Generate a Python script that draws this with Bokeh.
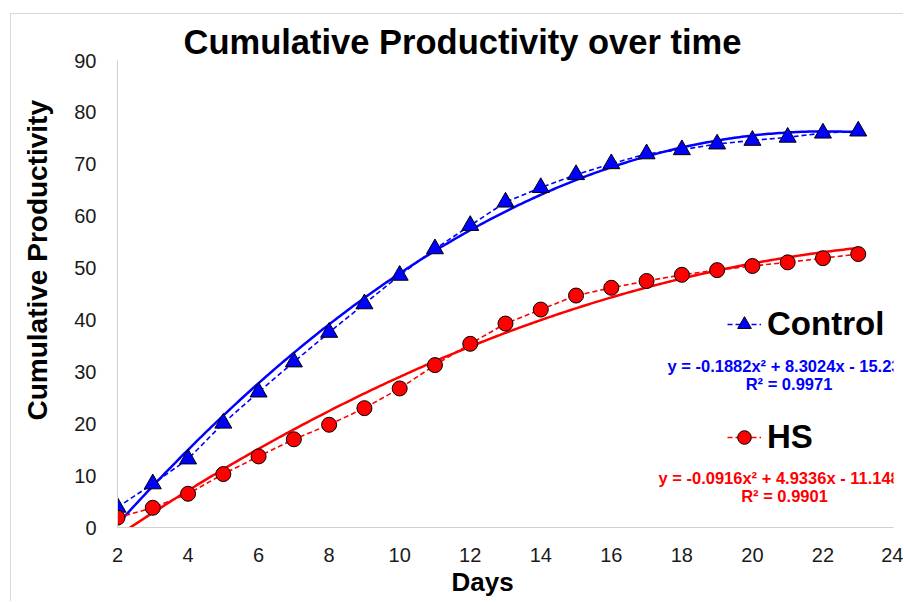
import numpy as np
from bokeh.plotting import figure
from bokeh.models import (ColumnDataSource, FixedTicker, Label, Legend, LegendItem, Range1d, Title)
from bokeh.embed import file_html
from bokeh.resources import INLINE

# ---- data ----
days = list(range(2, 24))
control = [3.9, 8.4, 13.2, 20.1, 26.1, 31.9, 37.6, 43.1, 48.6, 53.7, 58.2,
           62.7, 65.5, 68.0, 70.1, 72.0, 72.8, 73.9, 74.6, 75.2, 76.0, 76.4]
hs = [1.9, 3.8, 6.5, 10.3, 13.7, 17.0, 19.8, 23.0, 26.8, 31.3, 35.4,
      39.3, 42.0, 44.7, 46.2, 47.5, 48.7, 49.6, 50.4, 51.1, 51.9, 52.7]
# polynomial trend coefficients (a, b, c) as printed on the chart
control_coef = [-0.1882, 8.3024, -15.23]
hs_coef = [-0.0916, 4.9336, -11.148]
control_eq = "y = -0.1882x² + 8.3024x - 15.23"
control_r2 = "R² = 0.9971"
hs_eq = "y = -0.0916x² + 4.9336x - 11.148"
hs_r2 = "R² = 0.9901"
x_ticks = list(range(2, 25, 2))
y_ticks = list(range(0, 91, 10))

BLUE = "#0000FF"
RED = "#FF0000"
FONT = "Liberation Sans"

p = figure(width=903, height=601, output_backend="svg", toolbar_location=None,
           x_range=Range1d(2, 24), y_range=Range1d(0, 90),
           min_border_left=117, min_border_right=10, min_border_top=60, min_border_bottom=74)
# thin light-grey chart-area border (top and left) drawn behind a transparent canvas border
p.styles = {
    "background-color": "white",
    "background-image": "linear-gradient(#d9d9d9, #d9d9d9), linear-gradient(#d9d9d9, #d9d9d9)",
    "background-size": "1px 590px, 895px 1px",
    "background-position": "10px 13px, 10px 13px",
    "background-repeat": "no-repeat",
}
p.border_fill_color = None
p.outline_line_color = None
p.grid.visible = False
p.background_fill_color = "white"

p.title.text = "Cumulative Productivity over time"
p.title.align = "left"
p.title.offset = 66
p.title.standoff = 0
p.title.text_font = FONT
p.title.text_font_size = "34.5px"
p.title.text_font_style = "bold"
p.title.text_color = "black"

for ax, ticks, standoff in ((p.xaxis[0], x_ticks, 20), (p.yaxis[0], y_ticks, 21)):
    ax.ticker = FixedTicker(ticks=ticks)
    ax.major_tick_line_color = None
    ax.minor_tick_line_color = None
    ax.major_tick_out = 0
    ax.major_tick_in = 0
    ax.axis_line_color = "#d0d0d0"
    ax.axis_line_width = 1
    ax.major_label_text_font = FONT
    ax.major_label_text_font_size = "20px"
    ax.major_label_text_color = "#1a1a1a"
    ax.major_label_standoff = standoff

p.add_layout(Title(text="Days", align="left", offset=334, standoff=0, text_font=FONT,
                   text_font_size="26px", text_font_style="bold", text_color="black"), "below")
p.add_layout(Title(text="Cumulative Productivity", align="left", offset=107, standoff=38,
                   text_font=FONT, text_font_size="28px", text_font_style="bold",
                   text_color="black"), "left")

# trend lines (from printed coefficients)
xf = np.linspace(2, 23, 300)
def poly(c, x):
    return c[0] * x ** 2 + c[1] * x + c[2]
p.line(xf, poly(control_coef, xf), line_color=BLUE, line_width=2.5)
p.line(xf, poly(hs_coef, xf), line_color=RED, line_width=2.5)

src = ColumnDataSource(dict(days=days, control=control, hs=hs))
lc = p.line("days", "control", source=src, line_color=BLUE, line_width=1.6, line_dash="5 3")
mc = p.scatter("days", "control", source=src, marker="triangle", size=17,
               fill_color=BLUE, line_color="black", line_width=1)
lh = p.line("days", "hs", source=src, line_color=RED, line_width=1.6, line_dash="5 3")
mh = p.scatter("days", "hs", source=src, marker="circle", size=15,
               fill_color=RED, line_color="black", line_width=1)

def make_legend(label, renderers, loc):
    lg = Legend(items=[LegendItem(label=label, renderers=renderers)], location=loc,
                orientation="vertical", padding=0, margin=0, spacing=0,
                border_line_color=None, background_fill_alpha=0,
                glyph_width=34, glyph_height=38, label_height=38, label_standoff=6,
                label_text_font=FONT, label_text_font_size="33px",
                label_text_font_style="bold", label_text_color="black")
    p.add_layout(lg)

make_legend("Control", [lc, mc], (610, 184))
make_legend("HS", [lh, mh], (610, 71))

def lab(text, x, y, size, color="black", align="left", baseline="middle"):
    p.add_layout(Label(text=text, x=x, y=y, x_units="screen", y_units="screen",
                       text_font=FONT, text_font_size=size, text_font_style="bold",
                       text_color=color, text_align=align, text_baseline=baseline))

lab(control_eq, 550, 162, "16.5px", BLUE)
lab(control_r2, 671.5, 144, "16.5px", BLUE, align="center")
lab(hs_eq, 541, 50, "16.5px", RED)
lab(hs_r2, 667, 32, "16.5px", RED, align="center")

open("out.html", "w").write(file_html(p, INLINE))
